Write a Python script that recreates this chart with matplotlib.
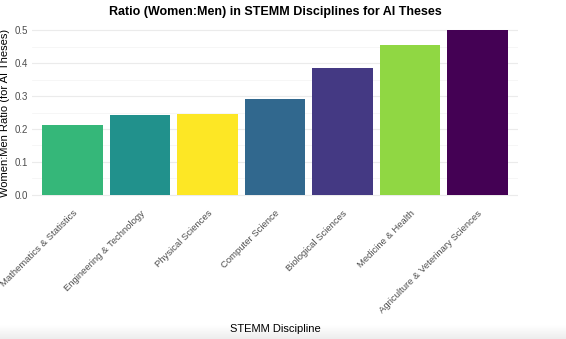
import numpy as np
import matplotlib
matplotlib.use("Agg")
import matplotlib.pyplot as plt
from matplotlib.ticker import MultipleLocator

plt.rcParams['font.family'] = ['Liberation Sans', 'DejaVu Sans']

disciplines = ["Mathematics & Statistics", "Engineering & Technology", "Physical Sciences",
               "Computer Science", "Biological Sciences", "Medicine & Health",
               "Agriculture & Veterinary Sciences"]
ratios = [0.212, 0.243, 0.245, 0.292, 0.385, 0.454, 0.500]
colors = ["#35b779", "#21918c", "#fde725", "#31688e", "#443983", "#90d743", "#440154"]

fig = plt.figure(figsize=(5.66, 3.39), dpi=100)
ax = fig.add_axes([0.0565, 0.401, 0.8585, 0.534])

x = np.arange(len(disciplines))
ax.bar(x, ratios, width=0.9, color=colors, zorder=2)

ax.set_xlim(-0.6, len(disciplines) - 0.4)
ax.set_ylim(-0.025, 0.525)
ax.yaxis.set_minor_locator(MultipleLocator(0.05))
yt = np.arange(0, 0.51, 0.1)
ax.set_yticks(yt)
ax.set_yticklabels([f"{v:.1f}" for v in yt])
ax.grid(axis='y', which='major', color='#ebebeb', linewidth=0.8, zorder=0)
ax.grid(axis='y', which='minor', color='#f3f3f3', linewidth=0.5, zorder=0)
ax.set_xticks(x)
ax.set_xticklabels(disciplines, rotation=45, ha='right', rotation_mode='anchor')

for s in ax.spines.values():
    s.set_visible(False)
ax.tick_params(axis='both', which='both', length=0, labelsize=7, labelcolor='#4d4d4d')
ax.tick_params(axis='x', pad=4, labelsize=6.8)
ax.tick_params(axis='y', pad=3)

ax.set_ylabel("Women:Men Ratio (for AI Theses)", fontsize=8, labelpad=3)
fig.text(0.486, 0.03, "STEMM Discipline", ha='center', va='center', fontsize=8)
fig.text(0.486, 0.965, "Ratio (Women:Men) in STEMM Disciplines for AI Theses",
         ha='center', va='center', fontsize=9, fontweight='bold')

# soft shadow along the bottom edge
shade = np.linspace(1.0, 0.93, 20).reshape(-1, 1)
sax = fig.add_axes([0, 0, 1, 0.04], zorder=-1)
sax.imshow(np.dstack([shade, shade, shade]), aspect='auto', origin='upper',
           extent=[0, 1, 0, 1])
sax.axis('off')

fig.savefig("out.png", dpi=100)
